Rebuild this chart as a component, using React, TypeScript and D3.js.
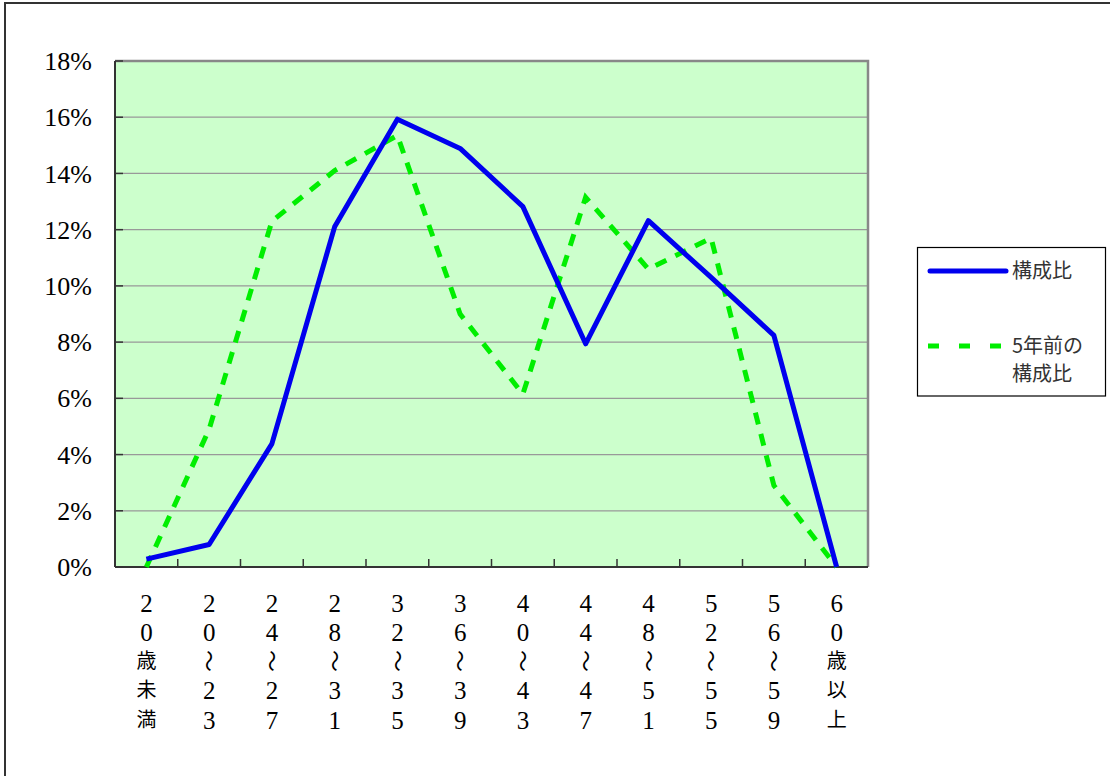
import React from "react";
import * as d3 from "d3";

const categories: string[][] = [
  ["2", "0", "歳", "未", "満"],
  ["2", "0", "〜", "2", "3"],
  ["2", "4", "〜", "2", "7"],
  ["2", "8", "〜", "3", "1"],
  ["3", "2", "〜", "3", "5"],
  ["3", "6", "〜", "3", "9"],
  ["4", "0", "〜", "4", "3"],
  ["4", "4", "〜", "4", "7"],
  ["4", "8", "〜", "5", "1"],
  ["5", "2", "〜", "5", "5"],
  ["5", "6", "〜", "5", "9"],
  ["6", "0", "歳", "以", "上"],
];
const current: number[] = [0.28, 0.8, 4.38, 12.1, 15.93, 14.89, 12.82, 7.94, 12.32, 10.3, 8.24, 0];
const previous: number[] = [0, 4.9, 12.3, 14.1, 15.35, 9.0, 6.15, 13.15, 10.6, 11.7, 2.9, 0];
const yTicks: number[] = [0, 2, 4, 6, 8, 10, 12, 14, 16, 18];
const seriesNames = ["構成比", "5年前の構成比"];

const W = 1110, H = 776;
const L = 115, R = 868, T = 61, B = 567;
const rowY = [603, 632, 661, 690, 720];

export default function App() {
  const idx = categories.map((_, i) => i);
  const xb = d3.scaleBand<number>().domain(idx).range([L, R]);
  const xc = (i: number) => (xb(i) as number) + xb.bandwidth() / 2;
  const y = d3.scaleLinear().domain([0, 18]).range([B, T]);
  const line = d3.line<number>().x((_, i) => xc(i)).y((d) => y(d));
  const serif = "Liberation Serif, Times New Roman, DejaVu Serif, serif";
  const cjk = "Noto Sans CJK JP, sans-serif";
  const isDigit = (c: string) => /[0-9]/.test(c);

  return (
    <svg width={W} height={H} style={{ position: "absolute", left: 0, top: 0, background: "#fff" }}>
      <rect x={5} y={3} width={1130} height={800} fill="#fff" stroke="#333" strokeWidth={2} />
      <rect x={L} y={T} width={R - L} height={B - T} fill="#ccffcc" />
      {yTicks.filter((t) => t > 0 && t < 18).map((t) => (
        <line key={t} x1={L} x2={R} y1={y(t)} y2={y(t)} stroke="#999" strokeWidth={1.2} />
      ))}
      <path d={`M${L},${T}H${R}V${B}`} fill="none" stroke="#888" strokeWidth={2.5} />
      <line x1={L} x2={L} y1={T} y2={B} stroke="#333" strokeWidth={2} />
      <line x1={L} x2={R} y1={B} y2={B} stroke="#333" strokeWidth={2} />
      {yTicks.map((t) => (
        <g key={t}>
          <line x1={L} x2={L + 8} y1={y(t)} y2={y(t)} stroke="#333" strokeWidth={1.5} />
          <text x={92} y={y(t)} dy="0.35em" textAnchor="end" style={{ fontFamily: serif, fontSize: 26 }} fill="#000">
            {t}%
          </text>
        </g>
      ))}
      {idx.slice(1).map((i) => (
        <line key={i} x1={xb(i) as number} x2={xb(i) as number} y1={B} y2={B - 8} stroke="#333" strokeWidth={1.5} />
      ))}
      <path d={line(previous) || ""} fill="none" stroke="#00ee00" strokeWidth={5} strokeDasharray="12,10" />
      <path d={line(current) || ""} fill="none" stroke="#0000ee" strokeWidth={5} strokeLinejoin="round" />
      {categories.map((chars, i) => (
        <g key={i}>
          {chars.map((c, j) => {
            const cy = rowY[j];
            if (c === "〜") {
              return (
                <text key={j} x={xc(i)} y={cy} dy="0.35em" textAnchor="middle"
                  style={{ fontFamily: cjk, fontSize: 22 }}
                  transform={`rotate(90 ${xc(i)} ${cy})`} fill="#000">
                  {c}
                </text>
              );
            }
            return (
              <text key={j} x={xc(i)} y={cy} dy="0.35em" textAnchor="middle"
                style={{ fontFamily: isDigit(c) ? serif : cjk, fontSize: isDigit(c) ? 25 : 20 }} fill="#000">
                {c}
              </text>
            );
          })}
        </g>
      ))}
      <rect x={917.5} y={247.5} width={188} height={148.5} fill="#fff" stroke="#000" strokeWidth={1.2} />
      <line x1={930} x2={1006} y1={271} y2={271} stroke="#0000ee" strokeWidth={5} strokeLinecap="round" />
      <text x={1012} y={271} dy="0.35em" style={{ fontFamily: cjk, fontSize: 20 }} fill="#333">{seriesNames[0]}</text>
      <line x1={928} x2={1001} y1={346} y2={346} stroke="#00ee00" strokeWidth={5} strokeDasharray="11,20" />
      <text x={1012} y={346} dy="0.35em" style={{ fontFamily: cjk, fontSize: 20 }} fill="#333">5年前の</text>
      <text x={1012} y={374} dy="0.35em" style={{ fontFamily: cjk, fontSize: 20 }} fill="#333">構成比</text>
    </svg>
  );
}
